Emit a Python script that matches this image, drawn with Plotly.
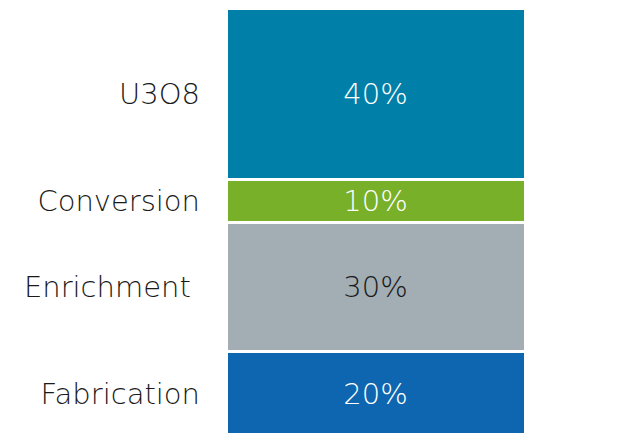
import plotly.graph_objects as go

# Cost breakdown of a nuclear fuel assembly, stacked bottom to top
stages = ["Fabrication", "Enrichment", "Conversion", "U3O8"]
shares = [20, 30, 10, 40]
colors = ["#0D66AF", "#A2ADB4", "#78B02A", "#0080A8"]
text_colors = ["#FFFFFF", "#1A1A1A", "#FFFFFF", "#FFFFFF"]

FONT = "DejaVu Sans"

fig = go.Figure()
for stage, share, col, tcol in zip(stages, shares, colors, text_colors):
    fig.add_trace(go.Bar(
        x=["fuel"],
        y=[share],
        name=stage,
        marker=dict(color=col, line=dict(color="#FFFFFF", width=3)),
        text=[f"{share}%"],
        textposition="inside",
        insidetextanchor="middle",
        textangle=0,
        textfont=dict(family=FONT, size=29, color=tcol, weight=200),
        width=1,
        hoverinfo="skip",
    ))

# segment midpoints carry the stage names as y-axis tick labels
mids = []
run = 0
for s in shares:
    mids.append(run + s / 2)
    run += s
tick_text = [s + "\u00a0" if s == "Enrichment" else s for s in stages]

fig.update_layout(
    barmode="stack",
    width=622,
    height=433,
    margin=dict(l=225.5, r=96.5, t=7, b=0),
    paper_bgcolor="#FFFFFF",
    plot_bgcolor="rgba(0,0,0,0)",
    showlegend=False,
    uniformtext=dict(mode="show", minsize=10),
    xaxis=dict(visible=False, range=[-0.5, 0.5]),
    yaxis=dict(
        range=[0.94, 100.35],
        tickvals=mids,
        ticktext=tick_text,
        tickfont=dict(family=FONT, size=29, color="#1A1A1A", weight=200),
        ticks="",
        showgrid=False,
        zeroline=False,
        showline=False,
        ticklabelstandoff=25,
    ),
)

fig.write_html("out.html")
